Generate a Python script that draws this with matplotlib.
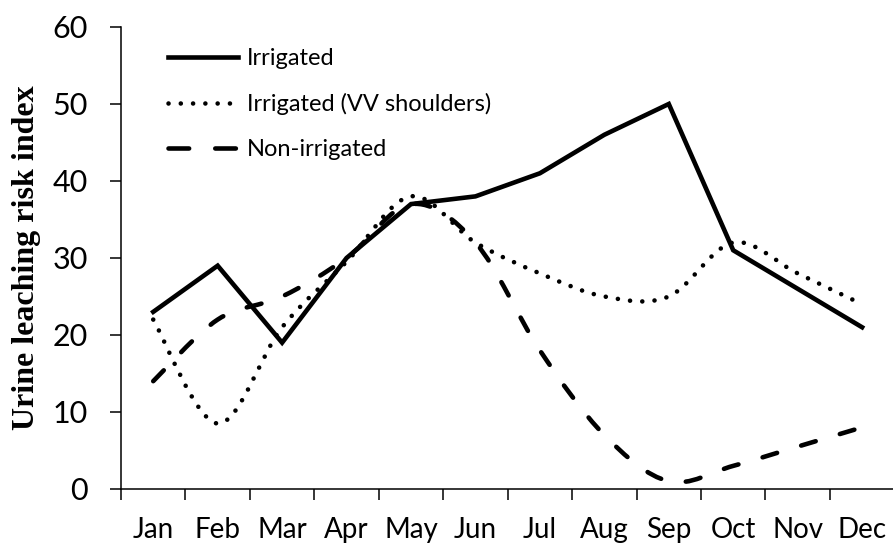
import numpy as np
import matplotlib.pyplot as plt
from matplotlib.path import Path
from matplotlib.patches import PathPatch
from matplotlib.lines import Line2D

months = ['Jan', 'Feb', 'Mar', 'Apr', 'May', 'Jun',
          'Jul', 'Aug', 'Sep', 'Oct', 'Nov', 'Dec']
irrigated = [23, 29, 19, 30, 37, 38, 41, 46, 50, 31, 26, 21]
irrigated_vv = [22, 8.5, 21, 29.5, 38, 32, 28, 25, 25, 32, 28, 24]
non_irrigated = [14, 22, 25, 30, 37, 32, 18, 7, 1, 3, 5.5, 8]

plt.rcParams['font.family'] = ['Lato', 'DejaVu Sans']


def smooth_path(x, y):
    # excel style smoothed line as bezier segments
    n = len(x)
    verts = [(x[0], y[0])]
    codes = [Path.MOVETO]
    for i in range(n - 1):
        a = max(i - 1, 0)
        b = min(i + 2, n - 1)
        c1 = (x[i] + (x[i + 1] - x[a]) / 6, y[i] + (y[i + 1] - y[a]) / 6)
        c2 = (x[i + 1] - (x[b] - x[i]) / 6, y[i + 1] - (y[b] - y[i]) / 6)
        verts += [c1, c2, (x[i + 1], y[i + 1])]
        codes += [Path.CURVE4] * 3
    return Path(verts, codes)


fig = plt.figure(figsize=(8.93, 5.45), dpi=100)
ax = fig.add_axes([0.1355, 0.1028, 0.866, 0.8477])

x = np.arange(len(months))
lw = 3.3
dot_style = (0, (0.01, 2.67))
dash_style = (0, (3.3, 5.5))

ax.plot(x, irrigated, color='black', lw=lw, solid_joinstyle='miter')
ax.add_patch(PathPatch(smooth_path(x, irrigated_vv), fill=False, color='black',
                       lw=lw, linestyle=dot_style, capstyle='round'))
ax.add_patch(PathPatch(smooth_path(x, non_irrigated), fill=False, color='black',
                       lw=lw, linestyle=dash_style, capstyle='round'))

ax.set_xlim(-0.5, 11.5)
ax.set_ylim(0, 60)
ax.set_yticks(range(0, 61, 10))
ax.set_xticks(np.arange(-0.5, 12, 1))
ax.set_xticklabels([])
ax.set_xticks(x, minor=True)
ax.set_xticklabels(months, minor=True)
ax.tick_params(axis='x', which='minor', length=0, pad=20, labelsize=20)
ax.tick_params(axis='x', which='major', length=8, width=1.1)
ax.tick_params(axis='y', length=8, width=1.1, pad=16, labelsize=22)

for s in ['top', 'right']:
    ax.spines[s].set_visible(False)
for s in ['left', 'bottom']:
    ax.spines[s].set_linewidth(1.1)

ax.set_ylabel('Urine leaching risk index', family='Liberation Serif',
              fontweight='bold', fontsize=23, labelpad=8)

handles = [
    Line2D([], [], color='black', lw=lw),
    Line2D([], [], color='black', lw=lw, linestyle=dot_style, dash_capstyle='round'),
    Line2D([], [], color='black', lw=lw, linestyle=(0, (4.5, 5.7)), dash_capstyle='round'),
]
labels = ['Irrigated', 'Irrigated (VV shoulders)', 'Non-irrigated']
fig.legend(handles, labels, loc='upper left', bbox_to_anchor=(0.188, 0.912),
           frameon=False, fontsize=17, handlelength=2.95, handletextpad=0.38,
           labelspacing=1.02, borderpad=0, borderaxespad=0)

fig.savefig('out.png', dpi=100)
